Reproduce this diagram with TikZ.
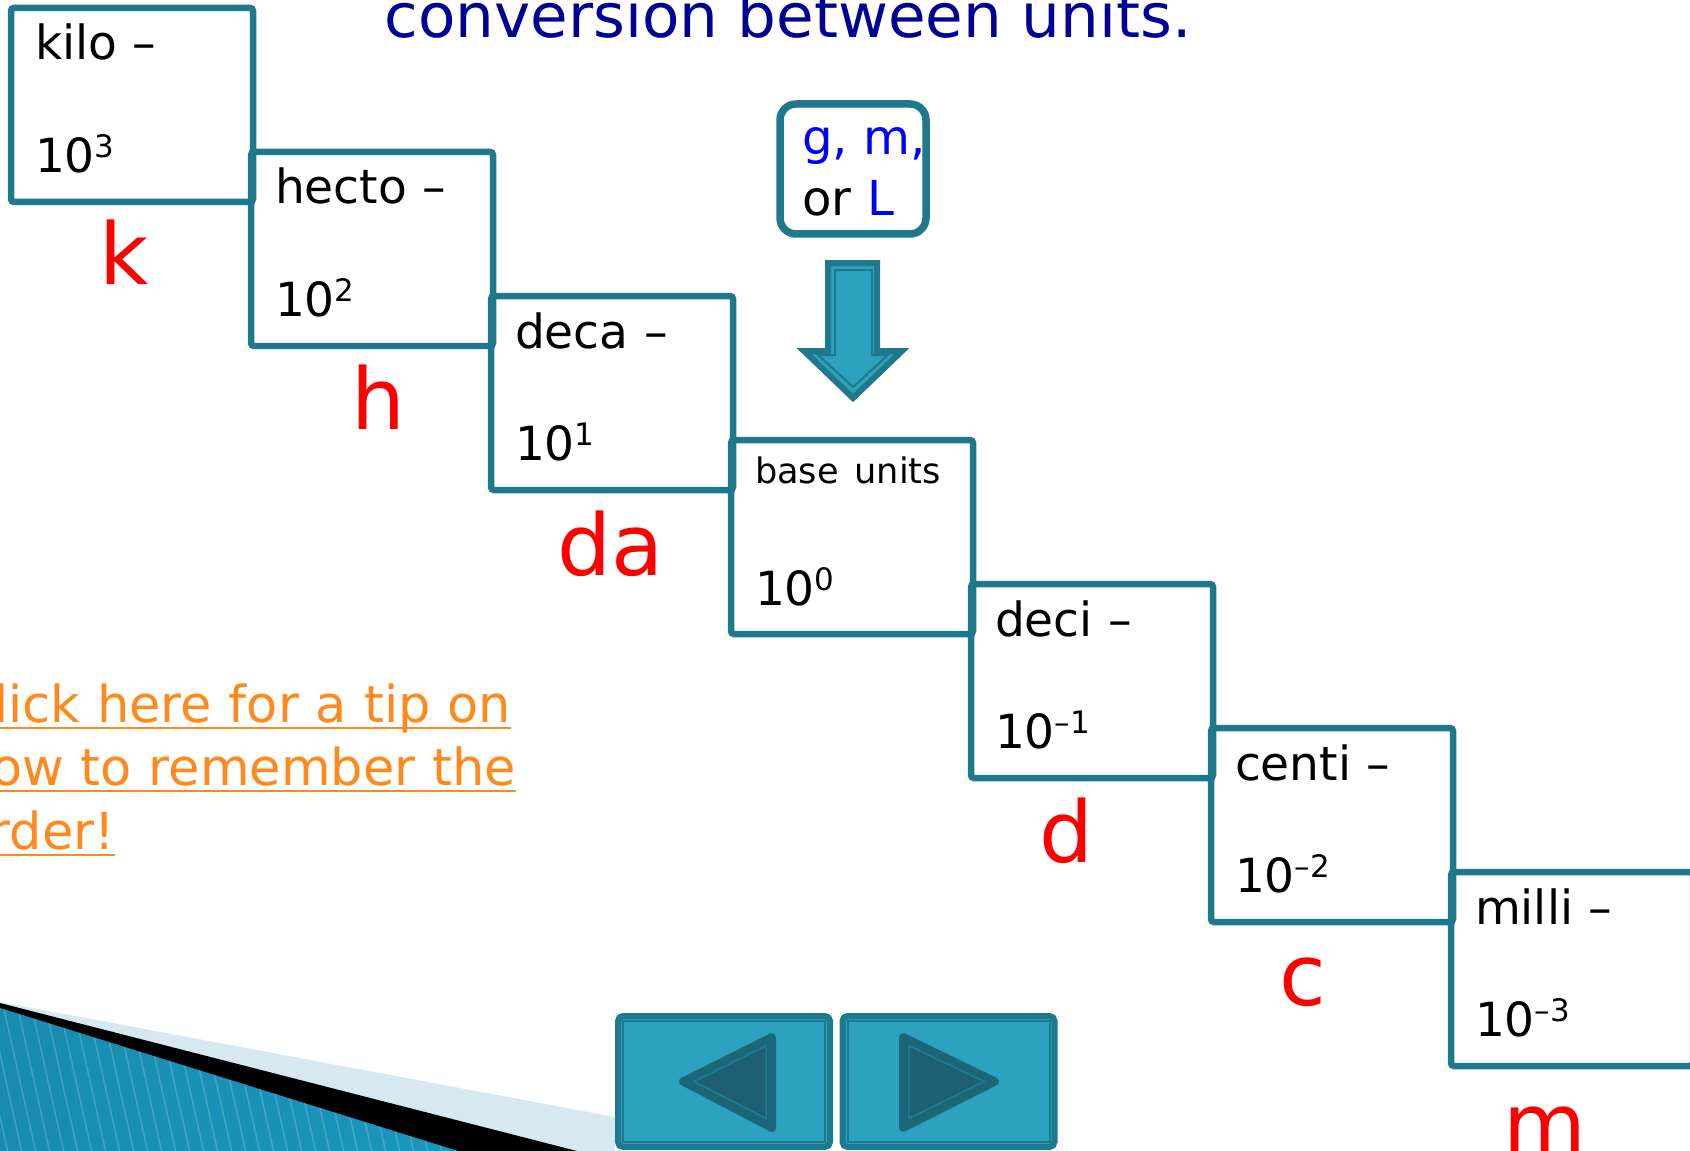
\documentclass[tikz,border=0pt]{standalone}
\usepackage{fontspec}
\setmainfont{DejaVu Sans}
\usepackage{tikz}
\usetikzlibrary{positioning, calc}

\definecolor{boxteal}{RGB}{32,120,140}
\definecolor{btnfill}{RGB}{44,162,190}
\definecolor{btndark}{RGB}{29,96,116}
\definecolor{unitblue}{RGB}{0,0,255}
\definecolor{titleblue}{RGB}{0,0,150}
\definecolor{tiporange}{RGB}{255,137,28}
\definecolor{bandlight}{RGB}{214,232,240}

\newsavebox{\tipbox}
\newcommand{\tipline}[1]{\leavevmode\sbox{\tipbox}{#1}\rlap{\rule[-0.65mm]{\wd\tipbox}{0.2mm}}\usebox{\tipbox}}
\newcommand{\expo}[1]{\raisebox{1.5mm}{\fontsize{8.8pt}{10pt}\selectfont #1}}

\tikzset{
  prefixbox/.style={
    rectangle, rounded corners=0.3mm,
    draw=boxteal, line width=0.65mm,
    inner xsep=2.4mm, inner ysep=0pt,
    text width=19.4mm, align=left,
    text height=5.2mm, text depth=14.2mm,
    font=\fontsize{13.4pt}{16pt}\selectfont
  },
  innerline/.style={draw=boxteal, line width=0.18mm, rounded corners=0.2mm},
  unitletter/.style={anchor=base, inner sep=0pt, text=red,
    font=\fontsize{24.2pt}{29pt}\selectfont},
  unitbox/.style={
    rectangle, rounded corners=1.6mm,
    draw=boxteal, line width=0.75mm,
    inner xsep=2.2mm, inner ysep=0pt,
    text width=10.2mm, align=left,
    text height=5.1mm, text depth=7.9mm,
    font=\fontsize{13.7pt}{17.1pt}\selectfont
  },
  navbutton/.style={
    rectangle, rounded corners=0.5mm,
    draw=boxteal, line width=0.6mm, fill=btnfill,
    minimum width=21.2mm, minimum height=13.1mm, inner sep=0pt
  },
  navtri/.style={draw=boxteal!85!black, line width=0.8mm, line join=round, fill=btndark},
  blockarrow/.style={draw=boxteal, line width=0.6mm, fill=btnfill},
}

\begin{document}
\begin{tikzpicture}[x=0.1mm, y=-0.1mm]
  \useasboundingbox (0,0) rectangle (1690,1151);
  \fill[white] (0,0) rectangle (1690,1151);
  \clip (0,0) rectangle (1690,1151);

  % corner decoration
  \begin{scope}
    \fill[bandlight] (0,1002) -- (615,1117) -- (615,1151) -- (0,1151) -- cycle;
    \fill[black] (0,1003) -- (577,1151) -- (0,1151) -- cycle;
    \clip (0,1008) -- (458,1151) -- (0,1151) -- cycle;
    \shade[left color={rgb,255:red,24;green,140;blue,176},
           middle color={rgb,255:red,92;green,190;blue,224},
           right color={rgb,255:red,26;green,150;blue,188}] (0,1000) rectangle (460,1151);
    \foreach \s in {-40,-26,...,460}
      \draw[white, opacity=0.18, line width=0.15mm] (\s,1000) -- ++(34,153);
  \end{scope}

  \node[anchor=base west, inner sep=0pt, text=titleblue,
        font=\fontsize{17.4pt}{20pt}\selectfont] (title) at (384,38) {conversion between units.};

  % prefix staircase
  \node[prefixbox] (kilo)  at (132,105)  {kilo –\\[\baselineskip]10\expo{3}};
  \node[prefixbox] (hecto) at (372,249)  {hecto –\\[\baselineskip]10\expo{2}};
  \node[prefixbox] (deca)  at (612,393)  {deca –\\[\baselineskip]10\expo{1}};
  \node[prefixbox, text height=4.3mm, text depth=15.1mm] (base) at (852,537)
       {{\fontsize{10pt}{12pt}\selectfont base units}\\[6.6mm]10\expo{0}};
  \node[prefixbox] (deci)  at (1092,681) {deci –\\[\baselineskip]10\expo{–1}};
  \node[prefixbox] (centi) at (1332,825) {centi –\\[\baselineskip]10\expo{–2}};
  \node[prefixbox] (milli) at (1572,969) {milli –\\[\baselineskip]10\expo{–3}};
  \foreach \b in {kilo,hecto,deca,base,deci,centi,milli}
    \draw[innerline] ([shift={(5,5)}]\b.north west) rectangle ([shift={(-5,-5)}]\b.south east);

  \node[unitletter] (lk)  at (124,285)  {k};
  \node[unitletter] (lh)  at (378,429)  {h};
  \node[unitletter] (lda) at (611,575)  {da};
  \node[unitletter] (ld)  at (1066,862) {d};
  \node[unitletter] (lc)  at (1303,1005) {c};
  \node[unitletter] (lm)  at (1545,1154) {m};

  % base unit note
  \node[unitbox] (gml) at (853,169)
       {\mbox{\textcolor{unitblue}{g, m,}}\\or \textcolor{unitblue}{L}};
  \draw[draw=boxteal, line width=0.2mm, rounded corners=1mm]
       ([shift={(6,6)}]gml.north west) rectangle ([shift={(-6,-6)}]gml.south east);
  \draw[blockarrow] (828,263) -- (877,263) -- (877,351) -- (902,351) -- (853,398)
       -- (804,351) -- (828,351) -- cycle;
  \draw[draw=boxteal, line width=0.2mm] (835,270) -- (872,270) -- (872,355) -- (888,355)
       -- (853,387) -- (818,355) -- (835,355) -- cycle;

  \node[anchor=base west, inner sep=0pt, text width=60mm, align=left, text=tiporange,
        font=\fontsize{14.5pt}{18.2pt}\selectfont] (tip) at (-42,722)
       {\tipline{Click here for a tip on}\\\tipline{how to remember the}\\\tipline{order!}};

  % navigation buttons
  \node[navbutton] (prev) at (724,1081.5) {};
  \node[navbutton] (next) at (948.5,1081.5) {};
  \foreach \b in {prev,next}
    \draw[draw=boxteal, line width=0.2mm] ([shift={(8,8)}]\b.north west) rectangle ([shift={(-8,-8)}]\b.south east);
  \draw[navtri] ($(prev.center)+(-41,0)$) -- ($(prev.center)+(48,-44.5)$)
       -- ($(prev.center)+(48,46.5)$) -- cycle;
  \draw[draw=boxteal, line width=0.2mm] ($(prev.center)+(-30,0)$) -- ($(prev.center)+(42,-36)$)
       -- ($(prev.center)+(42,37)$) -- cycle;
  \draw[navtri] ($(next.center)+(-45.5,-44.5)$) -- ($(next.center)+(46.5,0)$)
       -- ($(next.center)+(-45.5,46.5)$) -- cycle;
  \draw[draw=boxteal, line width=0.2mm] ($(next.center)+(-39.5,-36)$) -- ($(next.center)+(35.5,0)$)
       -- ($(next.center)+(-39.5,37)$) -- cycle;
\end{tikzpicture}
\end{document}
